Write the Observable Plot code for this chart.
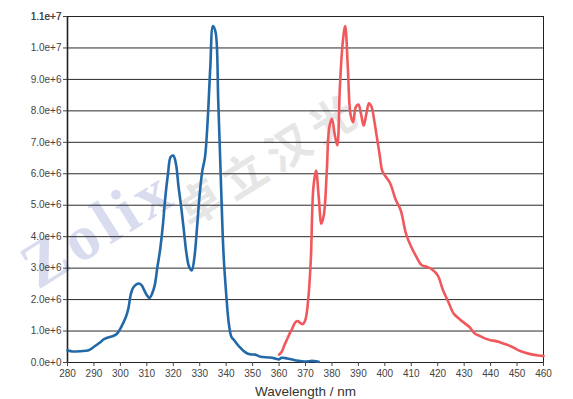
<!DOCTYPE html>
<html>
<head>
<meta charset="utf-8">
<script src="https://cdn.jsdelivr.net/npm/d3@7"></script>
<script src="https://cdn.jsdelivr.net/npm/@observablehq/plot@0.6"></script>
<style>
  html, body { margin: 0; padding: 0; background: #fff; }
  #chart svg { display: block; }
</style>
</head>
<body>
<div id="chart"></div>
<script>
// Excitation (blue) spectrum: wavelength (nm) and intensity
const blueWl = [280,282,285,288,290,292,294,296,298,299,300,302,303,304,305,307,308,309,310,311,312,313,314,315,316,317,318,319,320,321,322,323,324,325,326,327,328,329,330,331,332,333,334,335,336,337,338,339,340,341,342,343,345,347,349,351,353,356,358,360,361,363,366,368,370,372,374,375];
const blueVal = [0.39,0.35,0.36,0.39,0.50,0.62,0.75,0.81,0.87,0.94,1.08,1.43,1.71,2.19,2.40,2.51,2.46,2.30,2.14,2.05,2.19,2.46,3.04,3.57,4.31,5.26,6.00,6.53,6.58,6.32,5.58,4.94,4.20,3.46,3.04,2.93,3.35,4.31,5.37,6.10,6.53,7.69,9.39,10.7,10.5,8.33,5.79,3.46,2.19,1.24,0.81,0.71,0.50,0.34,0.26,0.25,0.18,0.16,0.14,0.10,0.15,0.13,0.07,0.05,0.03,0.05,0.04,0.02].map(v => v * 1e6);

// Emission (red) spectrum
const redWl = [360,361,362,363,364,365,366,367,368,369,370,371,372,373,374,375,376,377,378,379,380,381,382,383,384,385,386,387,388,389,390,391,392,393,394,395,396,397,398,399,400,402,404,406,408,410,412,414,416,418,420,422,424,426,428,430,432,434,436,438,440,442,444,446,448,450,452,454,456,458,460];
const redVal = [0.25,0.34,0.55,0.73,0.92,1.08,1.26,1.32,1.26,1.22,1.37,1.98,3.25,5.58,6.10,5.26,4.41,4.73,6.00,7.48,7.75,7.27,6.90,8.75,10.1,10.7,9.39,7.90,7.64,8.12,8.20,7.90,7.53,7.90,8.24,8.12,7.69,7.16,6.63,6.10,5.95,5.70,5.20,4.84,4.10,3.67,3.35,3.09,3.04,2.95,2.77,2.30,1.93,1.56,1.40,1.26,1.13,0.92,0.84,0.76,0.71,0.68,0.63,0.57,0.50,0.41,0.34,0.29,0.25,0.22,0.21].map(v => v * 1e6);

const xTicks = d3.range(280, 461, 10);
const yTicks = d3.range(0, 11.01e6, 1e6);
const xLabel = "Wavelength / nm";
const watermarkLatin = "Zolix";
const watermarkCJK = "卓立汉光";

const blue = blueWl.map((w, i) => ({w, v: blueVal[i]}));
const red = redWl.map((w, i) => ({w, v: redVal[i]}));

const chart = Plot.plot({
  width: 573,
  height: 399,
  marginLeft: 67,
  marginRight: 30,
  marginTop: 16,
  marginBottom: 37,
  style: {fontFamily: "'Liberation Sans', Arial, sans-serif", fontSize: "10px", color: "#444", background: "#fff"},
  x: {domain: [280, 460], ticks: xTicks},
  y: {domain: [0, 1.1e7], ticks: yTicks},
  marks: [
    Plot.ruleY(yTicks.concat([1.1e7]), {stroke: "#2a2a2a", strokeWidth: 1}),
    Plot.frame({stroke: "#222", strokeWidth: 1}),
    Plot.ruleX([280], {stroke: "#222", strokeWidth: 1.6}),
    Plot.line(blue, {x: "w", y: "v", stroke: "#2369a8", strokeWidth: 2.6, curve: "catmull-rom"}),
    Plot.line(red, {x: "w", y: "v", stroke: "#f0585c", strokeWidth: 2.6, curve: "catmull-rom"}),
    Plot.axisY(yTicks.concat([1.1e7]), {tickFormat: d => d.toExponential(1), tickSize: 4, tickPadding: 2, label: null, fill: "#444", fontSize: 10}),
    Plot.axisX(xTicks, {tickFormat: d => String(d), tickSize: 4, tickPadding: 3, label: xLabel, labelAnchor: "center", labelArrow: false, labelOffset: 33, fill: "#444", fontSize: 10})
  ]
});

document.getElementById("chart").appendChild(chart);

// enlarge axis title
d3.select(chart).selectAll("g[aria-label='x-axis label'] text, g[aria-label='x-axis label']")
  .attr("font-size", 13.5).style("font-size", "13.5px").attr("fill", "#333");

// light watermark behind grid and curves
const firstRule = chart.querySelector("g[aria-label='rule']");
const wm = d3.select(chart.insertBefore(document.createElementNS("http://www.w3.org/2000/svg", "g"), firstRule))
  .attr("pointer-events", "none");
wm.append("text")
  .attr("transform", "translate(38,290) rotate(-32)")
  .attr("text-anchor", "start")
  .attr("font-family", "'Liberation Serif', 'DejaVu Serif', serif")
  .attr("font-weight", "bold")
  .attr("font-size", 64)
  .attr("letter-spacing", 5)
  .attr("fill", "#d8dcee")
  .text(watermarkLatin);
wm.append("text")
  .attr("transform", "translate(190,228) rotate(-32)")
  .attr("text-anchor", "start")
  .attr("font-family", "'Noto Sans CJK SC', sans-serif")
  .attr("font-weight", "bold")
  .attr("font-size", 44)
  .attr("letter-spacing", 8)
  .attr("fill", "#e6e6e6")
  .text(watermarkCJK);
</script>
</body>
</html>
